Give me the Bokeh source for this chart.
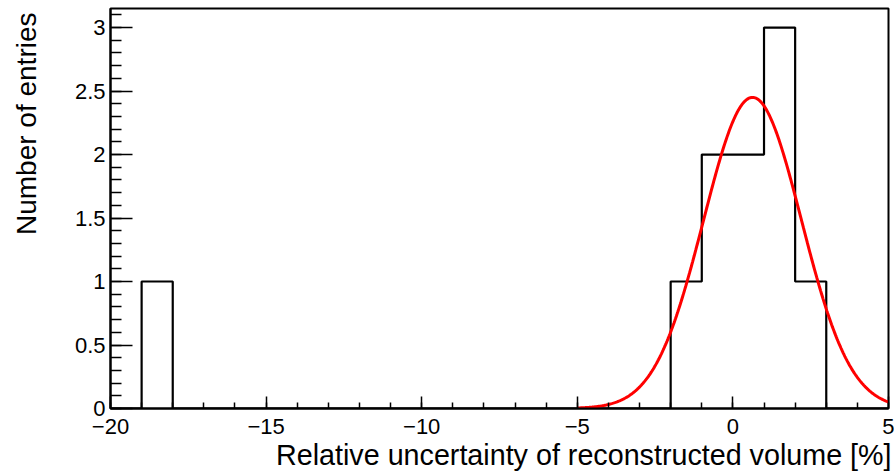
import numpy as np
from bokeh.plotting import figure
from bokeh.models import Range1d, FixedTicker, Title
from bokeh.embed import file_html
from bokeh.resources import INLINE

# ---- data ----
bin_edges = list(range(-20, 6))  # 25 bins of width 1
bin_counts = [0, 1, 0, 0, 0, 0, 0, 0, 0, 0, 0, 0, 0, 0, 0, 0, 0, 0, 1, 2, 2, 3, 1, 0, 0]

# Gaussian fit parameters (constant, mean, sigma) and fit range
fit_constant = 2.45
fit_mean = 0.63
fit_sigma = 1.57
fit_range = [-5, 5]

x_major = [-20, -15, -10, -5, 0, 5]
x_labels = ["\u221220", "\u221215", "\u221210", "\u22125", "0", "5"]
y_major = [0, 0.5, 1, 1.5, 2, 2.5, 3]
y_labels = ["0", "0.5", "1", "1.5", "2", "2.5", "3"]

x_title = "Relative uncertainty of reconstructed volume [%]"
y_title = "Number of entries"

FONT = "Liberation Sans"

p = figure(width=894, height=475, output_backend="svg", toolbar_location=None,
           x_range=Range1d(-20, 5), y_range=Range1d(0, 3.15),
           min_border_left=110, min_border_right=6, min_border_top=8, min_border_bottom=67)
p.title.text = ""
p.grid.visible = False
p.background_fill_color = "white"
p.border_fill_color = "white"
p.outline_line_color = "black"
p.outline_line_width = 2

# histogram outline (step)
p.step(x=bin_edges, y=bin_counts + [0], mode="after", line_color="black", line_width=2.2)

# fit curve
xf = np.linspace(fit_range[0], fit_range[1], 400)
yf = fit_constant * np.exp(-0.5 * ((xf - fit_mean) / fit_sigma) ** 2)
p.line(xf, yf, line_color="red", line_width=3)

# axes
xa = p.xaxis[0]
xa.ticker = FixedTicker(ticks=x_major, minor_ticks=list(range(-20, 6)))
xa.major_label_overrides = {v: s for v, s in zip(x_major, x_labels)}
ya = p.yaxis[0]
ya.ticker = FixedTicker(ticks=y_major, minor_ticks=[round(0.1 * i, 1) for i in range(0, 32)])
ya.major_label_overrides = {v: s for v, s in zip(y_major, y_labels)}

for ax, (mj, mn) in ((xa, (12, 6)), (ya, (22, 11))):
    ax.axis_line_color = "black"
    ax.axis_line_width = 2
    ax.major_tick_in = mj
    ax.major_tick_out = 0
    ax.minor_tick_in = mn
    ax.minor_tick_out = 0
    ax.major_tick_line_color = "black"
    ax.minor_tick_line_color = "black"
    ax.major_tick_line_width = 1.5
    ax.minor_tick_line_width = 1.5
    ax.major_label_text_font = FONT
    ax.major_label_text_font_size = "22px"
    ax.major_label_text_color = "black"
xa.major_label_standoff = 10
ya.major_label_standoff = 5

p.add_layout(Title(text=x_title, align="right", text_font=FONT, text_font_size="28.7px",
                   text_font_style="normal", text_color="black", standoff=0, offset=-3), "below")
# spacer panel between y tick labels and the y title
p.add_layout(Title(text=" ", text_font_size="1px", standoff=18), "left")
p.add_layout(Title(text=y_title, align="right", vertical_align="top", text_font=FONT,
                   text_font_size="28px", text_font_style="normal", text_color="black",
                   standoff=14, offset=4), "left")

open("out.html", "w").write(file_html(p, INLINE))
